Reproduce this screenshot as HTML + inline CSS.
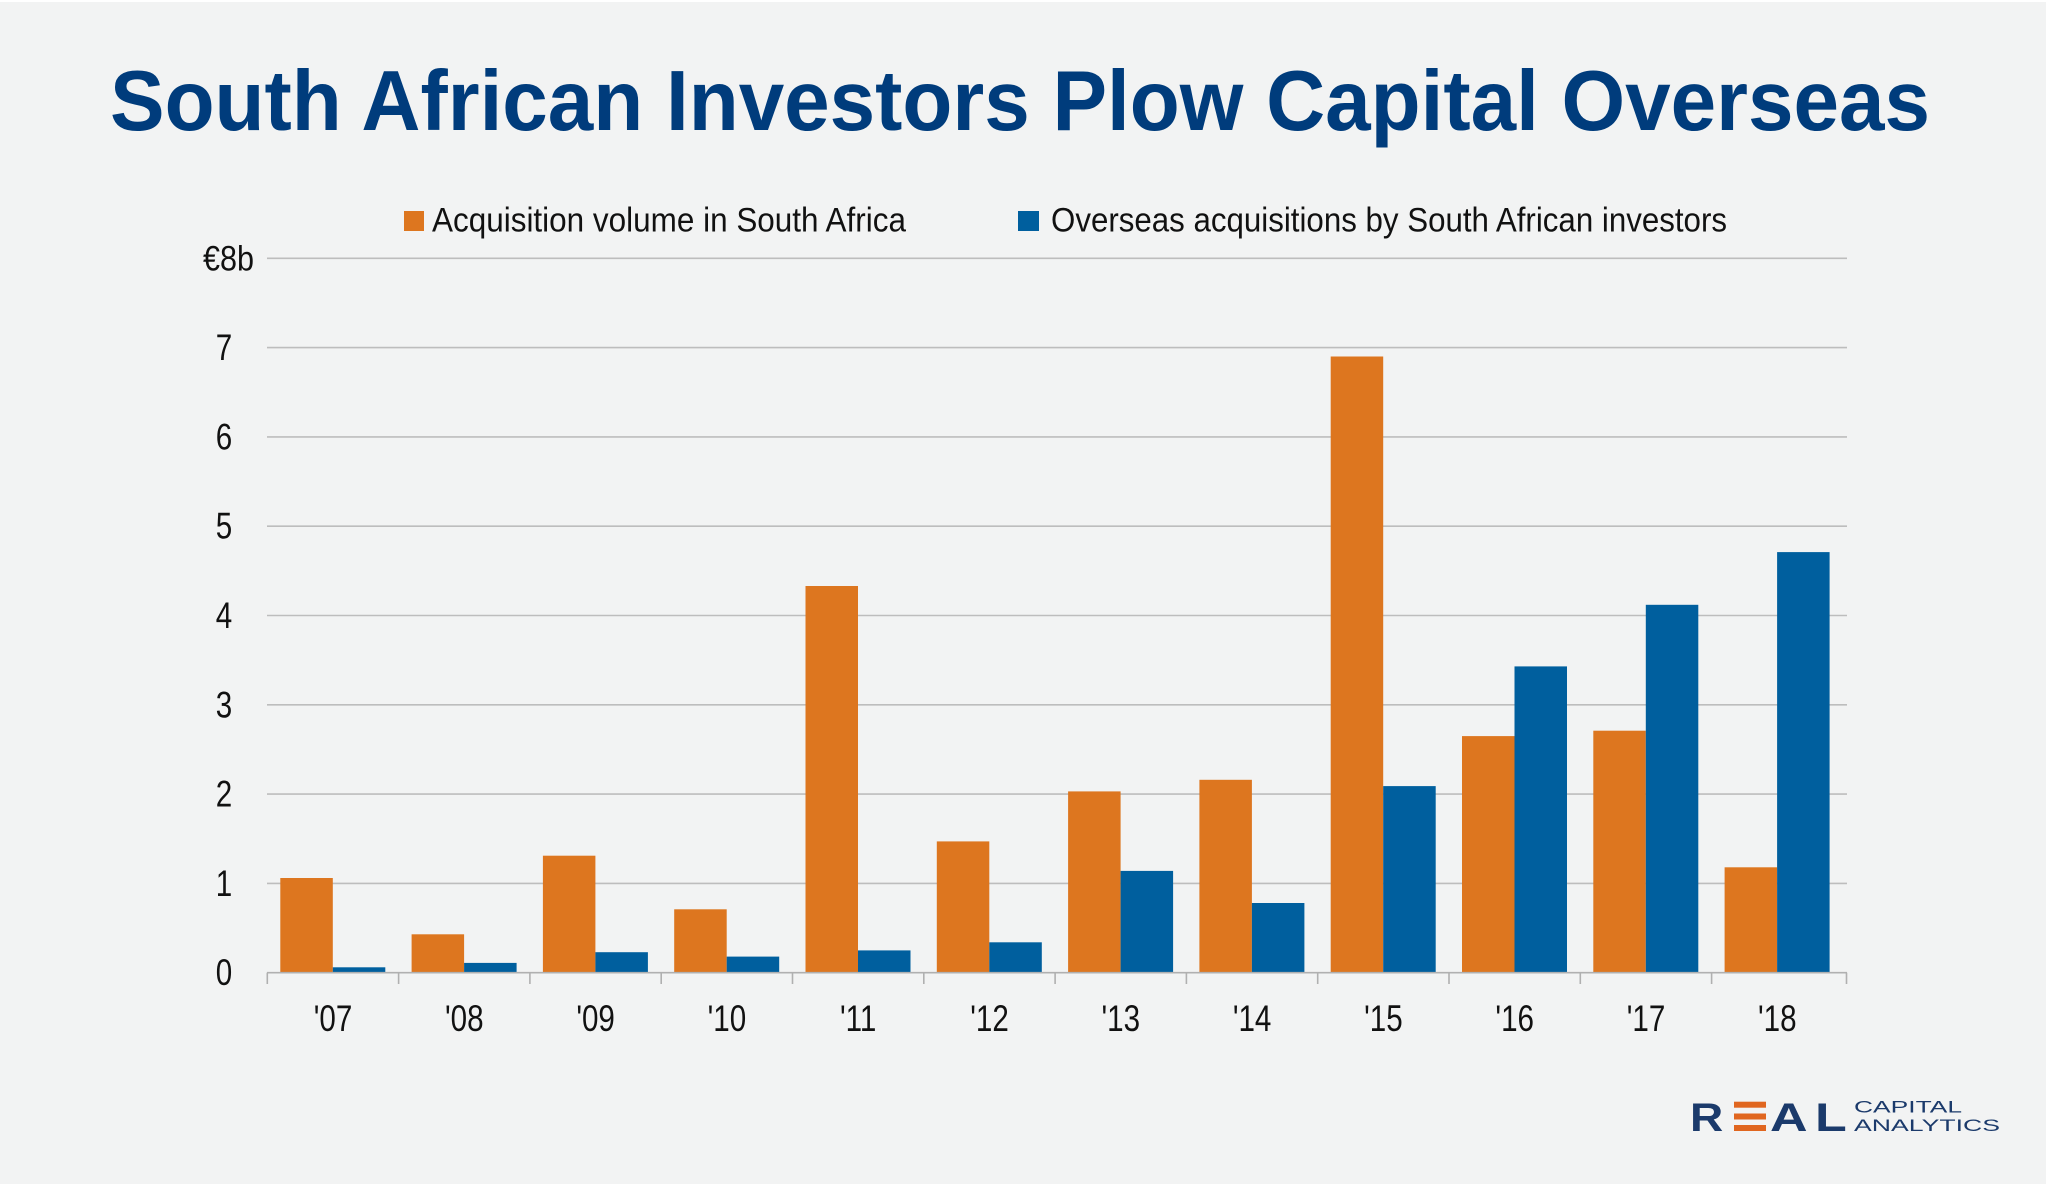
<!DOCTYPE html>
<html>
<head>
<meta charset="utf-8">
<style>
html,body{margin:0;padding:0;background:#f2f3f3;}
svg{display:block;}
</style>
</head>
<body>
<svg width="2048" height="1184" viewBox="0 0 2048 1184" xmlns="http://www.w3.org/2000/svg">
<rect x="0" y="0" width="2048" height="1184" fill="#f2f3f3"/>
<rect x="0" y="0" width="2048" height="2" fill="#ffffff"/>
<rect x="2046" y="0" width="2" height="1184" fill="#ffffff"/>

<!-- Title -->
<text x="110" y="130" font-family="'Liberation Sans', sans-serif" font-weight="bold" font-size="85" fill="#003c7c" textLength="1820" lengthAdjust="spacingAndGlyphs">South African Investors Plow Capital Overseas</text>

<!-- Legend -->
<rect x="404" y="211" width="20" height="20" fill="#dd761f"/>
<text x="432" y="231.7" font-family="'Liberation Sans', sans-serif" font-size="34" fill="#111" textLength="474" lengthAdjust="spacingAndGlyphs">Acquisition volume in South Africa</text>
<rect x="1018" y="211" width="21" height="20" fill="#005f9e"/>
<text x="1051" y="231.7" font-family="'Liberation Sans', sans-serif" font-size="34" fill="#111" textLength="676" lengthAdjust="spacingAndGlyphs">Overseas acquisitions by South African investors</text>

<!-- Gridlines -->
<g stroke="#bdbdbd" stroke-width="1.6">
<line x1="267" y1="258.3" x2="1847" y2="258.3"/>
<line x1="267" y1="347.6" x2="1847" y2="347.6"/>
<line x1="267" y1="436.9" x2="1847" y2="436.9"/>
<line x1="267" y1="526.2" x2="1847" y2="526.2"/>
<line x1="267" y1="615.5" x2="1847" y2="615.5"/>
<line x1="267" y1="704.8" x2="1847" y2="704.8"/>
<line x1="267" y1="794.1" x2="1847" y2="794.1"/>
<line x1="267" y1="883.4" x2="1847" y2="883.4"/>
</g>

<!-- Y labels -->
<g font-family="'Liberation Sans', sans-serif" font-size="37" fill="#111">
<text x="203" y="270.7" font-size="35" textLength="51" lengthAdjust="spacingAndGlyphs">€8b</text>
<text transform="translate(224,360) scale(0.8,1)" text-anchor="middle">7</text>
<text transform="translate(224,449.4) scale(0.8,1)" text-anchor="middle">6</text>
<text transform="translate(224,538.7) scale(0.8,1)" text-anchor="middle">5</text>
<text transform="translate(224,628) scale(0.8,1)" text-anchor="middle">4</text>
<text transform="translate(224,717.3) scale(0.8,1)" text-anchor="middle">3</text>
<text transform="translate(224,806.6) scale(0.8,1)" text-anchor="middle">2</text>
<text transform="translate(224,895.9) scale(0.8,1)" text-anchor="middle">1</text>
<text transform="translate(224,985.2) scale(0.8,1)" text-anchor="middle">0</text>
</g>

<!-- Bars -->
<g>
<rect x="280.3" y="878.0" width="52.5" height="94.7" fill="#dd761f"/>
<rect x="411.6" y="934.3" width="52.5" height="38.4" fill="#dd761f"/>
<rect x="542.9" y="855.7" width="52.5" height="117.0" fill="#dd761f"/>
<rect x="674.2" y="909.3" width="52.5" height="63.4" fill="#dd761f"/>
<rect x="805.5" y="586.0" width="52.5" height="386.7" fill="#dd761f"/>
<rect x="936.8" y="841.4" width="52.5" height="131.3" fill="#dd761f"/>
<rect x="1068.1" y="791.4" width="52.5" height="181.3" fill="#dd761f"/>
<rect x="1199.4" y="779.8" width="52.5" height="192.9" fill="#dd761f"/>
<rect x="1330.7" y="356.5" width="52.5" height="616.2" fill="#dd761f"/>
<rect x="1462.0" y="736.1" width="52.5" height="236.6" fill="#dd761f"/>
<rect x="1593.3" y="730.7" width="52.5" height="242.0" fill="#dd761f"/>
<rect x="1724.6" y="867.3" width="52.5" height="105.4" fill="#dd761f"/>
<rect x="332.8" y="967.3" width="52.5" height="5.4" fill="#005f9e"/>
<rect x="464.1" y="962.9" width="52.5" height="9.8" fill="#005f9e"/>
<rect x="595.4" y="952.2" width="52.5" height="20.5" fill="#005f9e"/>
<rect x="726.7" y="956.6" width="52.5" height="16.1" fill="#005f9e"/>
<rect x="858.0" y="950.4" width="52.5" height="22.3" fill="#005f9e"/>
<rect x="989.3" y="942.3" width="52.5" height="30.4" fill="#005f9e"/>
<rect x="1120.6" y="870.9" width="52.5" height="101.8" fill="#005f9e"/>
<rect x="1251.9" y="903.0" width="52.5" height="69.7" fill="#005f9e"/>
<rect x="1383.2" y="786.1" width="52.5" height="186.6" fill="#005f9e"/>
<rect x="1514.5" y="666.4" width="52.5" height="306.3" fill="#005f9e"/>
<rect x="1645.8" y="604.8" width="52.5" height="367.9" fill="#005f9e"/>
<rect x="1777.1" y="552.1" width="52.5" height="420.6" fill="#005f9e"/>
</g>

<!-- Axis -->
<g stroke="#b0b0b0" stroke-width="1.6">
<line x1="267" y1="972.7" x2="1847" y2="972.7"/>
<line x1="267.3" y1="972.7" x2="267.3" y2="984"/>
<line x1="398.6" y1="972.7" x2="398.6" y2="984"/>
<line x1="529.9" y1="972.7" x2="529.9" y2="984"/>
<line x1="661.2" y1="972.7" x2="661.2" y2="984"/>
<line x1="792.5" y1="972.7" x2="792.5" y2="984"/>
<line x1="923.8" y1="972.7" x2="923.8" y2="984"/>
<line x1="1055.1" y1="972.7" x2="1055.1" y2="984"/>
<line x1="1186.4" y1="972.7" x2="1186.4" y2="984"/>
<line x1="1317.7" y1="972.7" x2="1317.7" y2="984"/>
<line x1="1449.0" y1="972.7" x2="1449.0" y2="984"/>
<line x1="1580.3" y1="972.7" x2="1580.3" y2="984"/>
<line x1="1711.6" y1="972.7" x2="1711.6" y2="984"/>
<line x1="1846.5" y1="972.7" x2="1846.5" y2="984"/>
</g>

<!-- X labels -->
<g font-family="'Liberation Sans', sans-serif" font-size="37" fill="#111" text-anchor="middle">
<text transform="translate(333,1031) scale(0.8,1)">'07</text>
<text transform="translate(464.3,1031) scale(0.8,1)">'08</text>
<text transform="translate(595.6,1031) scale(0.8,1)">'09</text>
<text transform="translate(726.9,1031) scale(0.8,1)">'10</text>
<text transform="translate(858.2,1031) scale(0.8,1)">'11</text>
<text transform="translate(989.5,1031) scale(0.8,1)">'12</text>
<text transform="translate(1120.8,1031) scale(0.8,1)">'13</text>
<text transform="translate(1252.1,1031) scale(0.8,1)">'14</text>
<text transform="translate(1383.4,1031) scale(0.8,1)">'15</text>
<text transform="translate(1514.7,1031) scale(0.8,1)">'16</text>
<text transform="translate(1646.0,1031) scale(0.8,1)">'17</text>
<text transform="translate(1777.3,1031) scale(0.8,1)">'18</text>
</g>

<!-- Logo -->
<g font-family="'Liberation Sans', sans-serif" font-weight="bold" font-size="40" fill="#1b3a6b">
<text transform="translate(1690,1131) scale(1.15,1)">R</text>
<rect x="1734" y="1101.7" width="32" height="6" fill="#e0661f"/>
<rect x="1734" y="1113.5" width="32" height="6" fill="#e0661f"/>
<rect x="1734" y="1125" width="32" height="6" fill="#e0661f"/>
<text transform="translate(1770,1131) scale(1.3,1)">A</text>
<text transform="translate(1815,1131) scale(1.3,1)">L</text>
</g>
<g font-family="'Liberation Sans', sans-serif" font-size="17" fill="#1b3a6b">
<text x="1854" y="1112.7" textLength="108" lengthAdjust="spacingAndGlyphs">CAPITAL</text>
<text x="1854" y="1131" textLength="146" lengthAdjust="spacingAndGlyphs">ANALYTICS</text>
</g>
</svg>
</body>
</html>
